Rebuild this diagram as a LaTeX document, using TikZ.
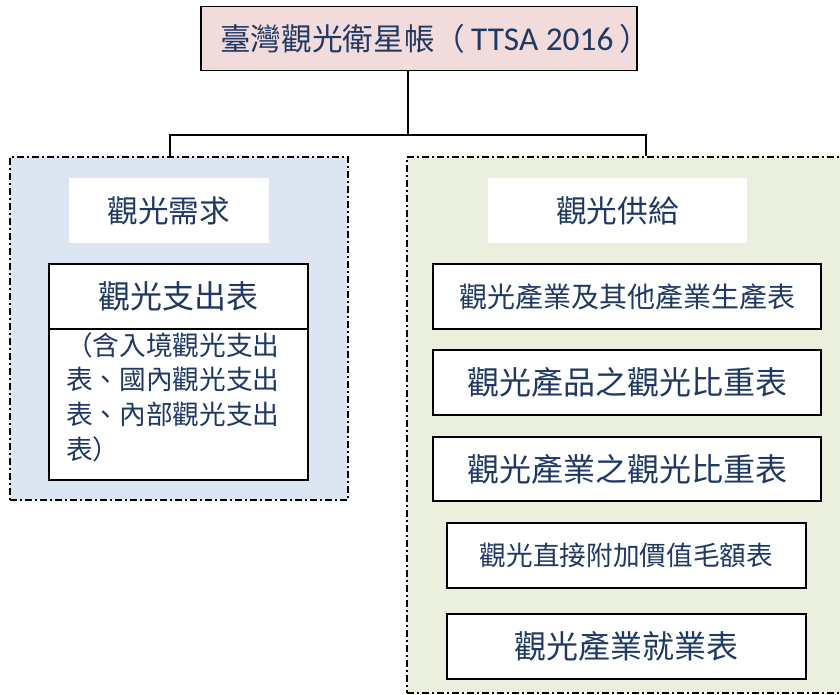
\documentclass[tikz,border=0pt]{standalone}
\usepackage{fontspec}
\setmainfont{Carlito}
\newfontfamily\tcfont{Noto Sans CJK TC}
\definecolor{txtblue}{RGB}{31,56,100}
\definecolor{titlepink}{RGB}{242,220,219}
\definecolor{demandblue}{RGB}{220,230,242}
\definecolor{supplygreen}{RGB}{235,239,222}
\begin{document}
\begin{tikzpicture}[x=0.75pt,y=-0.75pt,
  grp/.style={draw,line width=1.4pt,dash pattern=on 5.25pt off 2.25pt on 1.5pt off 2.25pt,inner sep=0},
  tbl/.style={draw,line width=1.4pt,fill=white,inner sep=0,text=txtblue,font=\tcfont},
  hdr/.style={fill=white,inner sep=0,text=txtblue,font=\tcfont\fontsize{23pt}{28pt}\selectfont}]
  \useasboundingbox (0,0) rectangle (840,695);
  \clip (0,0) rectangle (840,695);
  % 總表
  \node[tbl,fill=titlepink,line width=1.2pt,minimum width=327pt,minimum height=48pt] (ttsa) at (419,38.5) {};
  \node[inner sep=0,text=txtblue,font=\fontsize{25pt}{28pt}\selectfont] (ttsaText) at ([xshift=12pt]ttsa.center)
    {{\tcfont\fontsize{23pt}{28pt}\selectfont 臺灣觀光衛星帳（}\,TTSA 2016\,{\tcfont\fontsize{23pt}{28pt}\selectfont ）}};
  % 兩大區塊
  \node[grp,fill=demandblue,minimum width=253.5pt,minimum height=257.25pt] (demand) at (179,328.5) {};
  \node[grp,fill=supplygreen,minimum width=347.25pt,minimum height=402pt] (supply) at (638.5,425) {};
  \coordinate (trunk) at (408,135);
  \coordinate (jL) at (170,135);
  \coordinate (jR) at (646,135);
  \draw[line width=1.1pt] (ttsa.south -| trunk) -- (trunk);
  \draw[line width=1.1pt] (demand.north -| jL) -- (jL) -- (jR) -- (supply.north -| jR);
  \node[hdr,minimum width=150pt,minimum height=48.75pt] (demandHdr) at (169,210.5) {觀光需求};
  \node[hdr,minimum width=194.25pt,minimum height=48.75pt] (supplyHdr) at (617.5,210.5) {觀光供給};
  % 需求面
  \node[tbl,minimum width=194.25pt,minimum height=48.75pt,font=\tcfont\fontsize{24pt}{28pt}\selectfont]
    (expHead) at (178.5,296.5) {觀光支出表};
  \node[tbl,minimum width=194.25pt,minimum height=113.25pt] (expBody) at (178.5,404.5) {};
  \node[anchor=north west,inner sep=0,align=left,text=txtblue,font=\tcfont\fontsize{20pt}{26pt}\selectfont]
    (expNote) at (66,332) {（含入境觀光支出\\表、國內觀光支出\\表、內部觀光支出\\表）};
  % 供給面
  \node[tbl,minimum width=291pt,minimum height=48.75pt,font=\tcfont\fontsize{21pt}{26pt}\selectfont]
    (prodTbl) at (627,296.5) {觀光產業及其他產業生產表};
  \node[tbl,minimum width=291pt,minimum height=48.75pt,font=\tcfont\fontsize{24pt}{28pt}\selectfont]
    (prodRatio) at (627,382.5) {觀光產品之觀光比重表};
  \node[tbl,minimum width=291pt,minimum height=48pt,font=\tcfont\fontsize{24pt}{28pt}\selectfont]
    (indRatio) at (627,469) {觀光產業之觀光比重表};
  \node[tbl,minimum width=269.25pt,minimum height=48.75pt,font=\tcfont\fontsize{20pt}{26pt}\selectfont]
    (gvaTbl) at (626.5,555.5) {觀光直接附加價值毛額表};
  \node[tbl,minimum width=269.25pt,minimum height=48.75pt,font=\tcfont\fontsize{24pt}{28pt}\selectfont]
    (jobTbl) at (626.5,646.5) {觀光產業就業表};
\end{tikzpicture}
\end{document}
